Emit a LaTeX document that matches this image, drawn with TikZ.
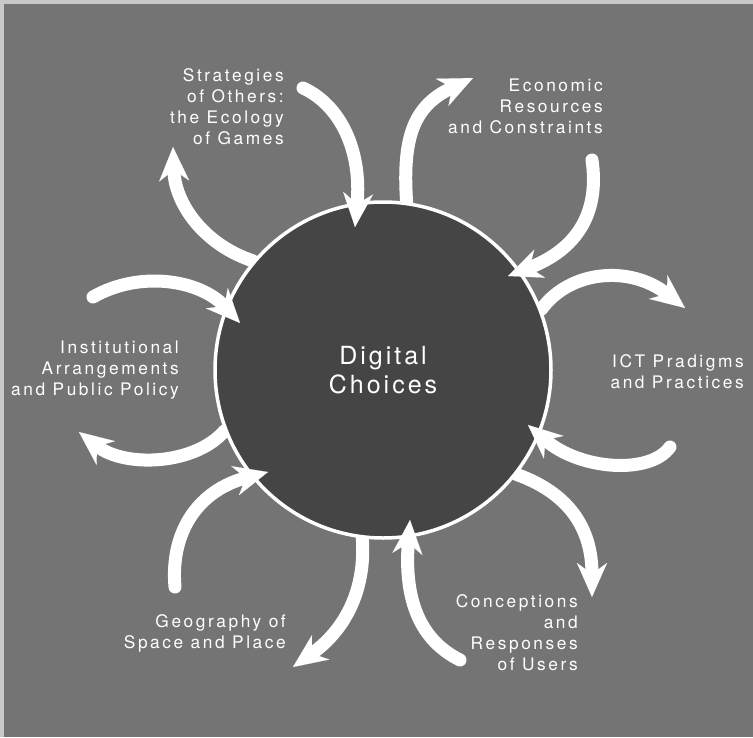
\documentclass[tikz,border=0pt]{standalone}
\usepackage{fontspec}
\setmainfont{TeX Gyre Heros}
\newfontfamily\lblfont{TeX Gyre Heros}[LetterSpace=15]
\newfontfamily\ctrfont{TeX Gyre Heros}[LetterSpace=12]
\usetikzlibrary{arrows.meta}
\definecolor{bggray}{HTML}{747474}
\definecolor{edgegray}{HTML}{C8C8C8}
\definecolor{discgray}{HTML}{454545}
\pgfdeclarelayer{paper}
\pgfdeclarelayer{under}
\pgfsetlayers{paper,under,main}
\begin{document}
\begin{tikzpicture}[x=1pt,y=-1pt,
  flow/.style={draw=white, line width=13pt, line cap=round,
    -{Stealth[length=34pt,width=30pt,inset=11pt,line width=0.1pt]}},
  lbl/.style={text=white, anchor=base east, align=right, inner sep=0pt,
    font=\lblfont\fontsize{17.3}{20.8}\selectfont},
  disc/.style={circle, fill=discgray, draw=white, line width=3.5pt,
    minimum size=336pt, inner sep=0pt, text=white, align=center,
    font=\ctrfont\fontsize{25}{29}\selectfont}
]
\useasboundingbox (0,0) rectangle (753,737);
\begin{pgfonlayer}{paper}
\fill[edgegray] (0,0) rectangle (753,737);
\fill[bggray] (4,4) rectangle (753,737);
\end{pgfonlayer}

% free ends
\coordinate (sOut) at (173,147);
\coordinate (eOut) at (473,78);
\coordinate (iOut) at (685,308);
\coordinate (cOut) at (592,597);
\coordinate (gOut) at (293,667);
\coordinate (pOut) at (79,432);
\coordinate (sInA) at (303,88);   \coordinate (sInB) at (355,227);
\coordinate (eInA) at (592,160);  \coordinate (eInB) at (508,276);
\coordinate (iInA) at (670,447);  \coordinate (iInB) at (528,425);
\coordinate (cInA) at (460,660);  \coordinate (cInB) at (410,520);
\coordinate (gInA) at (175,587);  \coordinate (gInB) at (268,472);
\coordinate (pInA) at (93,297);   \coordinate (pInB) at (240,323);

% the disc
\node[disc] (disc) at (383,370) {Digital\\Choices};

% outgoing arrows (start hidden under the disc)
\begin{pgfonlayer}{under}
\draw[flow] (disc.140) .. controls (205,245) and (175,205) .. (sOut);
\draw[flow] (disc.82) .. controls (402,135) and (415,105) .. (eOut);
\draw[flow] (disc.21) .. controls (570,270) and (630,265) .. (iOut);
\draw[flow] (disc.322) .. controls (560,490) and (592,520) .. (cOut);
\draw[flow] (disc.263) .. controls (366,590) and (345,630) .. (gOut);
\draw[flow] (disc.201) .. controls (195,465) and (125,468) .. (pOut);
\end{pgfonlayer}

% incoming arrows
\draw[flow] (sInA) .. controls (340,105) and (362,150) .. (sInB);
\draw[flow] (eInA) .. controls (600,215) and (575,250) .. (eInB);
\draw[flow] (iInA) .. controls (650,475) and (580,470) .. (iInB);
\draw[flow] (cInA) .. controls (420,640) and (404,600) .. (cInB);
\draw[flow] (gInA) .. controls (170,530) and (200,490) .. (gInB);
\draw[flow] (pInA) .. controls (140,270) and (200,280) .. (pInB);

% labels (anchored at the baseline of their last line)
\node[lbl] (strat) at (284,144) {Strategies\\of Others:\\the Ecology\\of Games};
\node[lbl] (econ) at (603,133) {Economic\\Resources\\and Constraints};
\node[lbl] (ict) at (744,388) {ICT Pradigms\\and Practices};
\node[lbl] (conc) at (578,670) {Conceptions\\and\\Responses\\of Users};
\node[lbl] (geo) at (286,648) {Geography of\\Space and Place};
\node[lbl] (inst) at (179,395) {Institutional\\Arrangements\\and Public Policy};
\end{tikzpicture}
\end{document}
